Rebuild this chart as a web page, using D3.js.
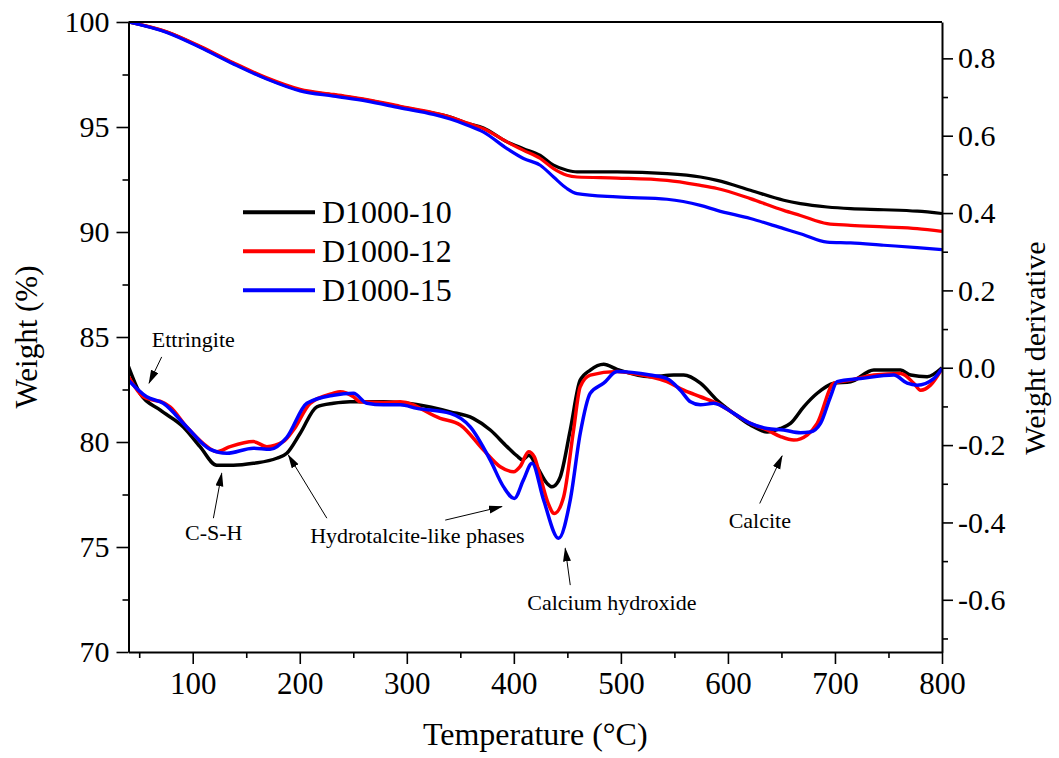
<!DOCTYPE html>
<html>
<head>
<meta charset="utf-8">
<script src="https://cdn.jsdelivr.net/npm/d3@7"></script>
<style>
  body { margin: 0; background: #fff; }
  svg { display: block; }
</style>
</head>
<body>
<script>
// ---- data ----
const seriesNames = ["D1000-10", "D1000-12", "D1000-15"];
const seriesColors = ["#000000", "#ff0000", "#0000ff"];

// TG curves (weight %), shared temperature grid
const tgTemp = [40, 75.7, 106.8, 138, 169.2, 200.3, 231.5, 262.7, 293.8, 325, 340.6, 356, 371.7, 393.6, 409, 424.7, 437.1, 449.6, 459, 496.4, 543.1, 574.3, 589.9, 621, 652.1, 667.7, 692.7, 714.6, 745.6, 776.8, 800];
const tg10 = [100, 99.52, 98.82, 98.03, 97.31, 96.76, 96.52, 96.28, 95.96, 95.66, 95.48, 95.18, 94.95, 94.29, 93.97, 93.65, 93.18, 92.94, 92.86, 92.86, 92.78, 92.62, 92.46, 91.99, 91.51, 91.35, 91.19, 91.11, 91.06, 90.99, 90.88];
const tg12 = [100, 99.54, 98.85, 98.06, 97.34, 96.79, 96.55, 96.31, 95.99, 95.68, 95.48, 95.20, 94.92, 94.29, 93.89, 93.50, 93.02, 92.70, 92.62, 92.57, 92.46, 92.22, 92.07, 91.59, 91.03, 90.79, 90.40, 90.32, 90.24, 90.16, 90.03];
const tg15 = [100, 99.50, 98.79, 98.00, 97.28, 96.72, 96.47, 96.23, 95.91, 95.60, 95.38, 95.10, 94.76, 93.97, 93.50, 93.18, 92.62, 92.07, 91.83, 91.67, 91.56, 91.27, 91.03, 90.64, 90.16, 89.92, 89.52, 89.48, 89.37, 89.26, 89.16];

// DTG curves (weight derivative)
const dtgTemp10 = [40, 50.7, 69.4, 91.2, 106.8, 122.4, 138, 156.7, 178.5, 187.9, 200.3, 216, 231.5, 247, 278, 309, 340.6, 362, 378, 393.6, 403, 408, 414, 421.6, 431, 435.6, 440, 443.4, 452.7, 462, 471.4, 483.9, 496.4, 527.5, 549.3, 558.7, 574.3, 589.9, 605.4, 621, 636.6, 649.1, 658.4, 670.8, 683.4, 699, 714.6, 736.3, 761.3, 770.7, 786.2, 800];
const dtg10 = [0.003, -0.066, -0.109, -0.153, -0.204, -0.252, -0.252, -0.247, -0.234, -0.221, -0.170, -0.101, -0.092, -0.088, -0.088, -0.095, -0.114, -0.131, -0.161, -0.204, -0.228, -0.238, -0.226, -0.256, -0.299, -0.308, -0.300, -0.282, -0.161, -0.032, -0.006, 0.009, -0.004, -0.023, -0.019, -0.019, -0.040, -0.084, -0.118, -0.148, -0.166, -0.157, -0.144, -0.101, -0.066, -0.040, -0.036, -0.006, -0.006, -0.019, -0.023, 0.0];

const dtgTemp12 = [40, 53.8, 65, 71, 78.8, 94.4, 110, 122.4, 134.9, 156.7, 169.2, 184.7, 194.1, 209.7, 231.5, 237.7, 250.2, 256.4, 278, 293.8, 331.2, 349.9, 371.7, 387.3, 399.8, 406, 413.8, 419, 424.7, 432, 437.8, 446.5, 455.8, 462, 471.4, 496.4, 511.9, 543.1, 558.7, 574.3, 589.9, 605.4, 621, 636.6, 649.1, 661.5, 674, 683.4, 699, 714.6, 736.3, 761.3, 773.6, 780, 789.2, 800];
const dtg12 = [-0.023, -0.075, -0.085, -0.088, -0.101, -0.153, -0.196, -0.217, -0.204, -0.191, -0.204, -0.191, -0.161, -0.092, -0.066, -0.062, -0.075, -0.088, -0.090, -0.088, -0.131, -0.148, -0.213, -0.256, -0.269, -0.255, -0.217, -0.230, -0.282, -0.350, -0.377, -0.334, -0.161, -0.049, -0.019, -0.010, -0.015, -0.036, -0.058, -0.075, -0.092, -0.118, -0.144, -0.161, -0.178, -0.187, -0.174, -0.144, -0.040, -0.032, -0.019, -0.015, -0.040, -0.058, -0.045, -0.002];

const dtgTemp15 = [40, 57, 72.5, 94.4, 116.2, 131.8, 156.7, 172.3, 187.9, 206.6, 231.5, 250.2, 262.7, 278.2, 293.8, 309.4, 340.6, 359.3, 378, 390.4, 400.4, 409, 417, 427.8, 441.8, 452.7, 462, 471.4, 483.9, 496.4, 527.5, 543.1, 555.6, 565, 574.3, 586.7, 605.4, 621, 636.6, 652.1, 667.7, 677, 686.5, 695.8, 702, 723.9, 755, 767.5, 776.8, 792.3, 800];
const dtg15 = [-0.032, -0.075, -0.092, -0.153, -0.211, -0.221, -0.208, -0.211, -0.180, -0.092, -0.071, -0.066, -0.092, -0.096, -0.096, -0.105, -0.118, -0.153, -0.239, -0.308, -0.338, -0.290, -0.247, -0.342, -0.441, -0.342, -0.170, -0.066, -0.040, -0.010, -0.019, -0.028, -0.058, -0.088, -0.096, -0.092, -0.118, -0.144, -0.157, -0.161, -0.168, -0.166, -0.144, -0.075, -0.036, -0.028, -0.019, -0.040, -0.045, -0.028, -0.002];

// axis ticks
const xTicks = [100, 200, 300, 400, 500, 600, 700, 800];
const xMinor = [50, 150, 250, 350, 450, 550, 650, 750];
const yLeftTicks = [70, 75, 80, 85, 90, 95, 100];
const yLeftMinor = [72.5, 77.5, 82.5, 87.5, 92.5, 97.5];
const yRightTicks = [-0.6, -0.4, -0.2, 0.0, 0.2, 0.4, 0.6, 0.8];
const yRightMinor = [-0.7, -0.5, -0.3, -0.1, 0.1, 0.3, 0.5, 0.7];

// annotations: label, text anchor point (T, dtg), arrows [fromT, fromV, toT, toV]
const annoLabels = ["Ettringite", "C-S-H", "Hydrotalcite-like phases", "Calcium hydroxide", "Calcite"];
const annoText = [[61.7, 0.054], [92.8, -0.446], [209.7, -0.453], [412.5, -0.627], [600.7, -0.414]];
const annoArrows = [
  [71, 0.028, 59.2, -0.040],
  [119.3, -0.389, 127.1, -0.273],
  [225.3, -0.389, 189.4, -0.226],
  [335.9, -0.394, 388.9, -0.359],
  [452.7, -0.562, 448, -0.467],
  [629.7, -0.351, 650.6, -0.228]
];

// ---- layout ----
const W = 1059, H = 758;
const plotLeft = 128.5, plotRight = 942, plotTop = 22, plotBottom = 652;
const font = "'Times New Roman', 'Liberation Serif', serif";

const svg = d3.select("body").append("svg")
  .attr("width", W).attr("height", H)
  .style("font-family", font);

svg.append("rect").attr("width", W).attr("height", H).attr("fill", "#fff");

const x = d3.scaleLinear().domain([40, 800]).range([plotLeft, plotRight]);
const yW = d3.scaleLinear().domain([70, 100]).range([plotBottom, plotTop]);
const yD = d3.scaleLinear().domain([-0.735, 0.894]).range([plotBottom, plotTop]);

const defs = svg.append("defs");
// clip to plot
defs.append("clipPath").attr("id", "plot")
  .append("rect").attr("x", plotLeft).attr("y", plotTop)
  .attr("width", plotRight - plotLeft).attr("height", plotBottom - plotTop);

// arrow marker
defs.append("marker")
  .attr("id", "arrow")
  .attr("markerUnits", "userSpaceOnUse")
  .attr("markerWidth", 14).attr("markerHeight", 10)
  .attr("refX", 13).attr("refY", 4)
  .attr("orient", "auto")
  .append("path").attr("d", "M0,0 L14,4 L0,8 z").attr("fill", "#000");

// ---- curves ----
const g = svg.append("g").attr("clip-path", "url(#plot)");

function drawSeries(temps, vals, yScale, color, width) {
  const pts = temps.map((t, i) => ({ x: t, y: vals[i] }));
  g.append("path")
    .datum(pts)
    .attr("fill", "none")
    .attr("stroke", color)
    .attr("stroke-width", width)
    .attr("stroke-linejoin", "round")
    .attr("d", d3.line()
      .x(d => x(d.x))
      .y(d => yScale(d.y))
      .curve(d3.curveMonotoneX));
}

const tgSets = [tg10, tg12, tg15];
tgSets.forEach((s, i) => drawSeries(tgTemp, s, yW, seriesColors[i], 3.2));

const dtgSets = [[dtgTemp10, dtg10], [dtgTemp12, dtg12], [dtgTemp15, dtg15]];
dtgSets.forEach((s, i) => drawSeries(s[0], s[1], yD, seriesColors[i], 3.5));

// ---- axes ----
function styleAxis(sel, size) {
  sel.select(".domain").attr("stroke", "#000").attr("stroke-width", 2);
  sel.selectAll(".tick line").attr("stroke", "#000").attr("stroke-width", 1.6);
  sel.selectAll(".tick text").attr("fill", "#000").style("font-size", size + "px").style("font-family", font);
}

// bottom
const gx = svg.append("g").attr("transform", `translate(0,${plotBottom})`)
  .call(d3.axisBottom(x).tickValues(xTicks).tickSize(12).tickSizeOuter(0).tickPadding(8));
styleAxis(gx, 31);
const gxm = svg.append("g").attr("transform", `translate(0,${plotBottom})`)
  .call(d3.axisBottom(x).tickValues(xMinor).tickSize(6).tickFormat(""));
gxm.select(".domain").remove();
styleAxis(gxm, 31);

// left
const gy = svg.append("g").attr("transform", `translate(${plotLeft},0)`)
  .call(d3.axisLeft(yW).tickValues(yLeftTicks).tickSize(12).tickSizeOuter(0).tickPadding(7));
styleAxis(gy, 30);
const gym = svg.append("g").attr("transform", `translate(${plotLeft},0)`)
  .call(d3.axisLeft(yW).tickValues(yLeftMinor).tickSize(6).tickFormat(""));
gym.select(".domain").remove();
styleAxis(gym, 30);

// right
const gr = svg.append("g").attr("transform", `translate(${plotRight},0)`)
  .call(d3.axisRight(yD).tickValues(yRightTicks).tickSize(11).tickSizeOuter(0).tickPadding(5)
    .tickFormat(d => d3.format(".1f")(d).replace("−", "-")));
styleAxis(gr, 30);
const grm = svg.append("g").attr("transform", `translate(${plotRight},0)`)
  .call(d3.axisRight(yD).tickValues(yRightMinor).tickSize(6).tickFormat(""));
grm.select(".domain").remove();
styleAxis(grm, 30);

// top frame line
svg.append("line")
  .attr("x1", plotLeft).attr("x2", plotRight)
  .attr("y1", plotTop).attr("y2", plotTop)
  .attr("stroke", "#000").attr("stroke-width", 2);

// ---- axis titles ----
svg.append("text")
  .attr("transform", `translate(37,${(plotTop + plotBottom) / 2}) rotate(-90)`)
  .attr("text-anchor", "middle")
  .style("font-size", "31px")
  .text("Weight (%)");

svg.append("text")
  .attr("transform", `translate(1045,348) rotate(-90)`)
  .attr("text-anchor", "middle")
  .style("font-size", "30px")
  .text("Weight derivative");

svg.append("text")
  .attr("x", (plotLeft + plotRight) / 2).attr("y", 745)
  .attr("text-anchor", "middle")
  .style("font-size", "32px")
  .text("Temperature (°C)");

// ---- legend ----
const leg = svg.append("g");
seriesNames.forEach((name, i) => {
  const ly = 212.3 + i * 39;
  leg.append("line")
    .attr("x1", 243).attr("x2", 315)
    .attr("y1", ly).attr("y2", ly)
    .attr("stroke", seriesColors[i]).attr("stroke-width", 4);
  leg.append("text")
    .attr("x", 322).attr("y", ly + 11)
    .style("font-size", "32px")
    .text(name);
});

// ---- annotations ----
annoLabels.forEach((label, i) => {
  svg.append("text")
    .attr("x", x(annoText[i][0])).attr("y", yD(annoText[i][1]))
    .style("font-size", "22px")
    .text(label);
});
annoArrows.forEach(a => {
  svg.append("line")
    .attr("x1", x(a[0])).attr("y1", yD(a[1]))
    .attr("x2", x(a[2])).attr("y2", yD(a[3]))
    .attr("stroke", "#000").attr("stroke-width", 1)
    .attr("marker-end", "url(#arrow)");
});
</script>
</body>
</html>
